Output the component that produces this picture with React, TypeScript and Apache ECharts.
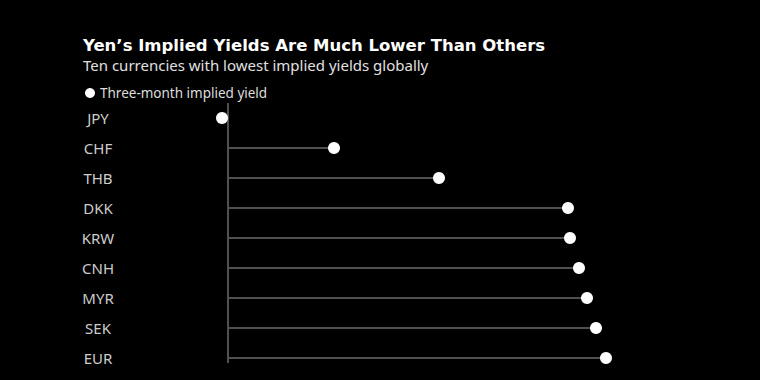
import React, { useEffect, useRef } from "react";
import * as echarts from "echarts";

const CATEGORIES = ["JPY", "CHF", "THB", "DKK", "KRW", "CNH", "MYR", "SEK", "EUR"];
const IMPLIED_YIELD = [-0.06, 1.06, 2.11, 3.4, 3.42, 3.51, 3.59, 3.68, 3.78];
const SERIES_NAME = "Three-month implied yield";
const TITLE = "Yen\u2019s Implied Yields Are Much Lower Than Others";
const SUBTITLE = "Ten currencies with lowest implied yields globally";
// zero reference rule extent, in category-index units
const ZERO_RULE = [
  [0, -0.5],
  [0, 8.17],
];

export default function App() {
  const ref = useRef<HTMLDivElement>(null);
  useEffect(() => {
    if (!ref.current) return;
    document.body.style.margin = "0";
    document.body.style.background = "#000";
    const chart = echarts.init(ref.current, null, { renderer: "svg" });
    const font = "'Noto Sans', 'Open Sans', sans-serif";
    chart.setOption({
      animation: false,
      backgroundColor: "#000000",
      title: {
        text: TITLE,
        subtext: SUBTITLE,
        left: 78,
        top: 32,
        itemGap: 3,
        textStyle: {
          color: "#ffffff",
          fontSize: 16.5,
          fontWeight: "bold",
          fontFamily: "'DejaVu Sans', sans-serif",
        },
        subtextStyle: {
          color: "#e0e0e0",
          fontSize: 15,
          fontFamily: font,
        },
      },
      legend: {
        data: [SERIES_NAME],
        left: 80,
        top: 81,
        icon: "circle",
        itemWidth: 10,
        itemHeight: 10,
        itemGap: 4,
        textStyle: { color: "#dddddd", fontSize: 13.5, fontFamily: font, padding: [0, 0, 0, 0] },
      },
      grid: { left: 128, top: 103, width: 550, height: 270 },
      xAxis: {
        type: "value",
        min: -1,
        max: 4.5,
        show: false,
        splitLine: { show: false },
      },
      yAxis: [
        {
          type: "category",
          data: CATEGORIES,
          inverse: true,
          axisLine: { show: false },
          axisTick: { show: false },
          axisLabel: {
            color: "#cccccc",
            fontSize: 15,
            fontFamily: font,
            align: "center",
            margin: 30,
          },
        },
        {
          type: "value",
          min: -0.5,
          max: 8.5,
          inverse: true,
          show: false,
          splitLine: { show: false },
        },
      ],
      series: [
        {
          type: "line",
          xAxisIndex: 0,
          yAxisIndex: 1,
          data: ZERO_RULE,
          symbol: "none",
          silent: true,
          lineStyle: { color: "#505050", width: 2 },
          z: 1,
        },
        {
          type: "bar",
          yAxisIndex: 0,
          data: IMPLIED_YIELD,
          barWidth: 2,
          silent: true,
          itemStyle: { color: "#505050" },
          z: 2,
        },
        {
          name: SERIES_NAME,
          type: "scatter",
          yAxisIndex: 0,
          data: IMPLIED_YIELD,
          symbol: "circle",
          symbolSize: 12,
          itemStyle: { color: "#ffffff", opacity: 1 },
          z: 3,
        },
      ],
    });
    return () => chart.dispose();
  }, []);
  return <div ref={ref} style={{ width: 760, height: 380 }} />;
}
